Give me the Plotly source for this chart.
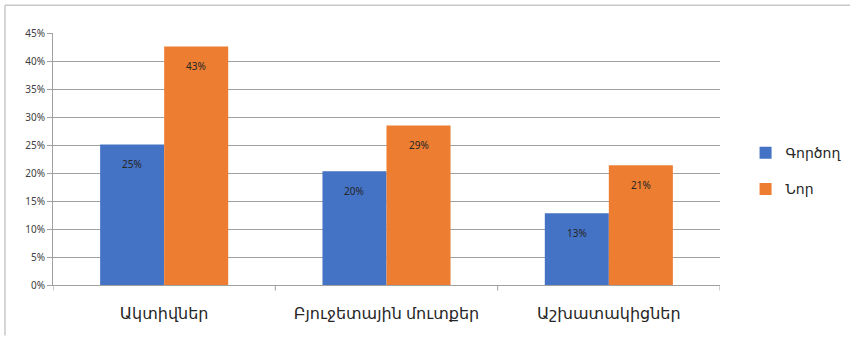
import plotly.graph_objects as go

categories = ["Ակտիվներ", "Բյուջետային մուտքեր", "Աշխատակիցներ"]
series_names = ["Գործող", "Նոր"]
gortsogh = [25.1, 20.3, 12.8]
nor = [42.6, 28.5, 21.4]
labels_gortsogh = ["25%", "20%", "13%"]
labels_nor = ["43%", "29%", "21%"]
y_ticks = [0, 5, 10, 15, 20, 25, 30, 35, 40, 45]
y_tick_text = [f"{v}%" for v in y_ticks]

colors = ["#4472C4", "#ED7D31"]
FONT = "Noto Sans, DejaVu Sans, sans-serif"

fig = go.Figure()
for i, (name, vals) in enumerate([(series_names[0], gortsogh), (series_names[1], nor)]):
    fig.add_trace(go.Bar(
        x=list(range(len(categories))), y=vals, name=name,
        marker=dict(color=colors[i], line=dict(width=0)),
        legendgroup=name,
    ))

bar_half = 0.144
annotations = []
for idx in range(len(categories)):
    for v, t, off in [(gortsogh[idx], labels_gortsogh[idx], -bar_half),
                      (nor[idx], labels_nor[idx], bar_half)]:
        annotations.append(dict(x=idx + off, y=v, xref="x", yref="y", text=t,
                                showarrow=False, yshift=-20,
                                font=dict(size=10, color="#262626", family=FONT)))

fig.update_layout(
    width=855, height=337,
    margin=dict(l=53, r=135, t=33, b=52, autoexpand=False),
    paper_bgcolor="white", plot_bgcolor="white",
    barmode="group", bargap=0.424, bargroupgap=0,
    font=dict(family=FONT),
    showlegend=True,
    legend=dict(x=0.872, y=0.492, xref="container", yref="container",
                xanchor="left", yanchor="middle",
                font=dict(size=14, color="#262626", family=FONT),
                tracegroupgap=15, traceorder="grouped", itemwidth=30,
                bgcolor="rgba(0,0,0,0)"),
    annotations=annotations,
    xaxis=dict(
        range=[-0.5, 2.5],
        tickmode="array", tickvals=list(range(len(categories))), ticktext=categories,
        showgrid=False, showline=True, linecolor="#A0A0A0", linewidth=1,
        ticks="", ticklabelstandoff=14,
        tickfont=dict(size=16, color="#262626", family=FONT),
        zeroline=False,
    ),
    yaxis=dict(
        range=[0, 45], tickmode="array", tickvals=y_ticks, ticktext=y_tick_text,
        showgrid=True, gridcolor="#A0A0A0", gridwidth=1,
        showline=True, linecolor="#A0A0A0", linewidth=1,
        ticks="outside", ticklen=5, tickcolor="#A0A0A0",
        tickfont=dict(size=10, color="#404040", family=FONT),
        zeroline=False,
    ),
    shapes=[
        *[dict(type="line", xref="x", yref="paper", x0=b, x1=b, y0=0, y1=-0.022,
               line=dict(color="#A0A0A0", width=1)) for b in [-0.5, 0.5, 1.5, 2.5]],
        dict(type="line", xref="paper", yref="paper", x0=-0.072, x1=-0.072, y0=-0.2, y1=1.11,
             line=dict(color="#C8C8C8", width=1.5)),
        dict(type="line", xref="paper", yref="paper", x0=-0.072, x1=1.195, y0=1.11, y1=1.11,
             line=dict(color="#C8C8C8", width=1.5)),
    ],
)

fig.write_html("out.html")
